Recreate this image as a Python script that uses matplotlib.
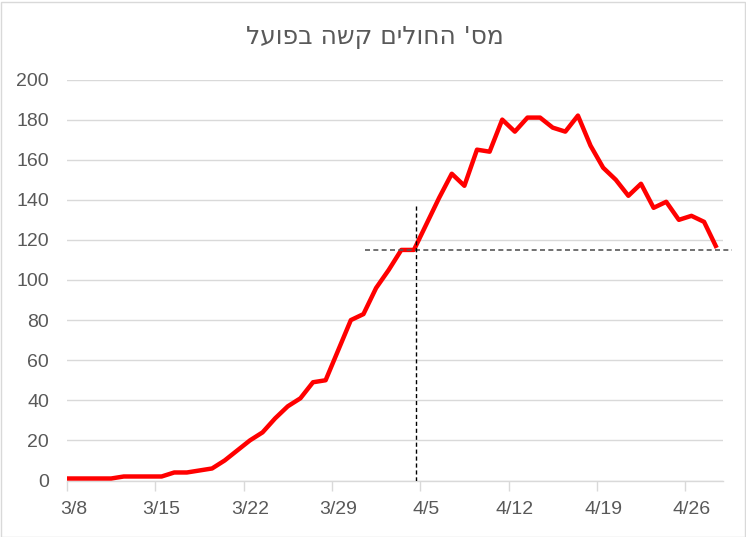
import matplotlib
matplotlib.use("Agg")
import matplotlib.pyplot as plt
from matplotlib.patches import Rectangle

# ---- data ----
title = "מס' החולים קשה בפועל"
# daily values from 3/7 (first point sits just left of the visible axis) to 4/28
start_label = "3/7"
values = [1,
          1, 1, 1, 1, 2, 2, 2, 2, 4, 4, 5, 6, 10, 15, 20, 24, 31, 37, 41, 49, 50,
          65, 80, 83, 96, 105, 115, 115, 128, 141, 153, 147, 165, 164, 180, 174,
          181, 181, 176, 174, 182, 167, 156, 150, 142, 148, 136, 139, 130, 132,
          129, 116]
first_index = -1          # 3/7 is one day before the first labelled day 3/8
tick_labels = ["3/8", "3/15", "3/22", "3/29", "4/5", "4/12", "4/19", "4/26"]
tick_days = [0, 7, 14, 21, 28, 35, 42, 49]
y_ticks = [0, 20, 40, 60, 80, 100, 120, 140, 160, 180, 200]
ref_level = 115           # horizontal reference
ref_h_from, ref_h_to = 23.1, 52.2
ref_day = 27.2            # vertical reference
ref_v_top = 138

def rtl(s):
    return s[::-1]

plt.rcParams['font.family'] = ['Liberation Sans', 'DejaVu Sans']
grey = "#595959"

fig = plt.figure(figsize=(7.46, 5.37), dpi=100)
ax = fig.add_axes([67/746, 1-480.5/537, (723-67)/746, (480.5-79.5)/537])

x = list(range(first_index, first_index + len(values)))
ax.plot(x, values, color="#ff0000", lw=3.2, solid_joinstyle="round",
        solid_capstyle="butt", zorder=3)

ax.set_xlim(-0.5, 51.5)
ax.set_ylim(0, 200)

# reference lines
ax.plot([ref_h_from, ref_h_to], [ref_level, ref_level], color=grey, lw=1.2,
        dashes=(3, 2), clip_on=False, zorder=4)
ax.plot([ref_day, ref_day], [0, ref_v_top], color="black", lw=1.0,
        dashes=(3, 2), zorder=4)

# axes styling
for s in ["top", "right", "left"]:
    ax.spines[s].set_visible(False)
ax.spines["bottom"].set_color("#d9d9d9")
ax.spines["bottom"].set_linewidth(1.0)

ax.set_yticks(y_ticks)
ax.set_yticklabels([str(v) for v in y_ticks])
ax.tick_params(axis="y", length=0, pad=13, labelsize=14, labelcolor=grey)
ax.yaxis.grid(True, color="#d9d9d9", lw=1.0)
ax.set_axisbelow(True)

major = [d - 0.5 for d in tick_days] + [tick_days[-1] + 6.5]
ax.set_xticks([m for m in major if m <= 51.5])
ax.set_xticklabels([])
ax.tick_params(axis="x", which="major", length=7, color="#d9d9d9", width=1.0)
ax.set_xticks(tick_days, minor=True)
ax.set_xticklabels(tick_labels, minor=True)
ax.tick_params(axis="x", which="minor", length=0, pad=15, labelsize=14,
               labelcolor=grey)

fig.text(375/746, 1-37/537, rtl(title), ha="center", va="center",
         fontsize=18, color=grey, family=['DejaVu Sans'])

fig.patches.append(Rectangle((0.5/746, 0.5/537), 744/746, 535/537,
                             transform=fig.transFigure, fill=False,
                             edgecolor="#d9d9d9", lw=1.0))

fig.savefig("out.png", dpi=100)
